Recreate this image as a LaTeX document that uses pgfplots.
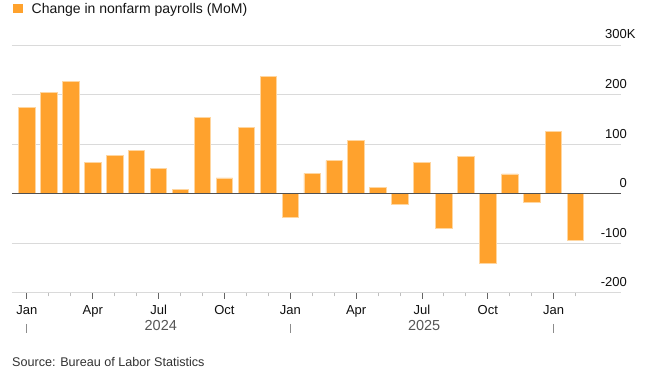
\documentclass[border=0pt]{standalone}
\usepackage{pgfplots}
\pgfplotsset{compat=1.18}
\usepackage{fontspec}
\setmainfont{Liberation Sans}
\definecolor{barfill}{RGB}{255,162,45}
\definecolor{baredge}{RGB}{255,214,160}
\definecolor{gridc}{RGB}{218,218,218}
\definecolor{zeroc}{RGB}{80,80,80}
\definecolor{yearc}{RGB}{85,85,85}
\definecolor{sepc}{RGB}{140,140,140}
\begin{document}
\begin{tikzpicture}
\begin{axis}[
  scale only axis, width=609pt, height=248pt,
  xmin=-0.68, xmax=27.07, ymin=-200, ymax=300,
  ybar, bar width=0.75, bar shift=0pt,
  axis line style={draw=none},
  ytick={-200,-100,0,100,200,300},
  yticklabels={-200,-100,0,100,200,300\rlap{K}},
  yticklabel pos=right,
  ymajorgrids, grid style={gridc, line width=1pt},
  major y tick style={draw=none},
  yticklabel style={anchor=base east, inner sep=0pt, font=\fontsize{13}{15}\selectfont, text={rgb,255:red,15;green,15;blue,15}, xshift=0pt, yshift=6pt},
  xtick={0,3,6,9,12,15,18,21,24},
  xticklabels={Jan,Apr,Jul,Oct,Jan,Apr,Jul,Oct,Jan},
  minor xtick={1,2,4,5,7,8,10,11,13,14,16,17,19,20,22,23,25},
  xtick pos=bottom, tick align=outside,
  major x tick style={draw={rgb,255:red,100;green,100;blue,100}, line width=0.9pt},
  minor x tick style={draw={rgb,255:red,190;green,190;blue,190}, line width=0.9pt},
  major tick length=6pt, minor tick length=3.5pt,
  xticklabel style={anchor=base, inner sep=0pt, font=\fontsize{13}{15}\selectfont, text={rgb,255:red,15;green,15;blue,15}, yshift=-16pt},
  /pgf/number format/assume math mode=true,
  clip=false,
]
\addplot[fill=barfill, draw=baredge, line width=0.8pt] coordinates {
(0,174) (1,205) (2,227) (3,63) (4,77) (5,87) (6,52) (7,9) (8,154) (9,32) (10,134) (11,236)
(12,-48) (13,41) (14,67) (15,107) (16,13) (17,-21) (18,63) (19,-70) (20,75) (21,-140) (22,40) (23,-18)
(24,126) (25,-93)
};
\draw[zeroc, line width=1.3pt] (axis cs:-0.68,0) -- (axis cs:27.07,0);
\draw[sepc, line width=0.9pt] ([yshift=-31pt]axis cs:0,-200) -- ([yshift=-40pt]axis cs:0,-200);
\draw[sepc, line width=0.9pt] ([yshift=-31pt]axis cs:12,-200) -- ([yshift=-40pt]axis cs:12,-200);
\draw[sepc, line width=0.9pt] ([yshift=-31pt]axis cs:24,-200) -- ([yshift=-40pt]axis cs:24,-200);
\node[anchor=base, inner sep=0pt, font=\fontsize{14.5}{16}\selectfont, text=yearc] at ([yshift=-37.7pt]axis cs:6.1,-200) {2024};
\node[anchor=base, inner sep=0pt, font=\fontsize{14.5}{16}\selectfont, text=yearc] at ([yshift=-37.7pt]axis cs:18.1,-200) {2025};
\coordinate (SW) at (rel axis cs:0,0);
\coordinate (NE) at (rel axis cs:1,1);
\end{axis}
\pgfresetboundingbox
\useasboundingbox ([shift={(-12pt,-78pt)}]SW) rectangle ([shift={(47pt,45pt)}]NE);
% title
\fill[barfill] ([shift={(1.3pt,279.5pt)}]SW) rectangle ([shift={(10.7pt,288.8pt)}]SW);
\node[anchor=base west, inner sep=0pt, font=\fontsize{14}{16}\selectfont, text={rgb,255:red,20;green,20;blue,20}] at ([shift={(19.5pt,279.5pt)}]SW) {Change in nonfarm payrolls (MoM)};
% source
\node[anchor=base west, inner sep=0pt, font=\fontsize{12.6}{14}\selectfont, text={rgb,255:red,50;green,50;blue,50}] at ([shift={(0pt,-73.7pt)}]SW) {Source: Bureau of Labor Statistics};
\end{tikzpicture}
\end{document}
